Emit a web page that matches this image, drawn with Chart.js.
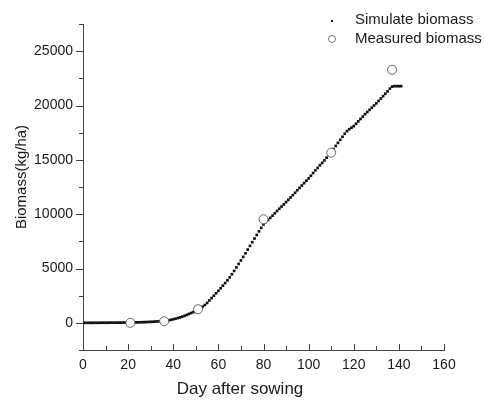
<!DOCTYPE html>
<html lang="en">
<head>
  <meta charset="UTF-8">
  <title>Biomass</title>
  <script src="https://cdn.jsdelivr.net/npm/chart.js"></script>
  <style>
    html, body { margin: 0; padding: 0; background: #fff; }
    .wrap { width: 485px; height: 403px; position: relative; }
  </style>
</head>
<body>
<div class="wrap"><canvas id="biomassChart"></canvas></div>

<script>
  // simulated biomass, one value per day starting at day 0
  const simBiomass = [
    0, 0, 0, 0, 0, 5, 5, 5, 10, 10, 10, 10, 15, 15, 15, 20, 20, 20, 25, 25, 30,
    30, 35, 40, 45, 50, 55, 60, 70, 80, 90, 100, 115, 130, 145, 165, 185, 210, 240, 280, 330,
    380, 440, 500, 570, 650, 730, 820, 910, 1000, 1100, 1210, 1340, 1480, 1640, 1830, 2060, 2280, 2500, 2720, 2950,
    3180, 3420, 3660, 3910, 4180, 4470, 4780, 5100, 5420, 5740, 6070, 6400, 6740, 7080, 7420, 7760, 8090, 8420, 8740, 9050,
    9280, 9470, 9660, 9860, 10080, 10290, 10500, 10700, 10900, 11110, 11320, 11530, 11750, 11970, 12200, 12420, 12640, 12860, 13080, 13300,
    13540, 13790, 14030, 14260, 14500, 14720, 14950, 15200, 15450, 15700, 15990, 16280, 16560, 16840, 17120, 17400, 17640, 17820, 17960, 18100,
    18320, 18540, 18760, 18980, 19200, 19400, 19600, 19800, 20000, 20200, 20420, 20640, 20860, 21080, 21300, 21550, 21740, 21780, 21780, 21780, 21780
  ];
  const measuredDays = [21, 36, 51, 80, 110, 137];
  const measuredBiomass = [0, 150, 1250, 9530, 15660, 23290];

  const xTickLabels = [0, 20, 40, 60, 80, 100, 120, 140, 160];
  const yTickLabels = [0, 5000, 10000, 15000, 20000, 25000];

  const seriesNames = ["Simulate biomass", "Measured biomass"];
  const xTitle = "Day after sowing";
  const yTitle = "Biomass(kg/ha)";

  const axisColor = "#444";
  const textColor = "#1a1a1a";
  const fontFamily = "'Liberation Sans', Arial, sans-serif";

  const simPoints = simBiomass.map((v, day) => ({ x: day, y: v }));
  const measuredPoints = measuredDays.map((d, i) => ({ x: d, y: measuredBiomass[i] }));

  // tick marks (long major, short minor), axis titles and the legend
  const decorPlugin = {
    id: "decor",
    afterDraw(chart) {
      const ctx = chart.ctx;
      const area = chart.chartArea;
      const xs = chart.scales.x, ys = chart.scales.y;
      ctx.save();
      ctx.strokeStyle = axisColor;
      ctx.lineWidth = 1;
      ctx.beginPath();
      ys.ticks.forEach(t => {
        const py = Math.round(ys.getPixelForValue(t.value)) + 0.5;
        const len = yTickLabels.includes(t.value) ? 7 : 4;
        ctx.moveTo(area.left, py);
        ctx.lineTo(area.left - len, py);
      });
      xs.ticks.forEach(t => {
        const px = Math.round(xs.getPixelForValue(t.value)) + 0.5;
        const len = xTickLabels.includes(t.value) ? 6 : 4;
        ctx.moveTo(px, area.bottom);
        ctx.lineTo(px, area.bottom - len);
      });
      ctx.stroke();

      // axis titles
      ctx.fillStyle = textColor;
      ctx.textAlign = "center";
      ctx.textBaseline = "middle";
      ctx.font = "17px " + fontFamily;
      ctx.fillText(xTitle, 240, 389);
      ctx.save();
      ctx.translate(22, 177);
      ctx.rotate(-Math.PI / 2);
      ctx.font = "15px " + fontFamily;
      ctx.fillText(yTitle, 0, 0);
      ctx.restore();

      // legend
      ctx.font = "15px " + fontFamily;
      ctx.textAlign = "left";
      ctx.fillText(seriesNames[0], 355, 20);
      ctx.fillText(seriesNames[1], 355, 39);
      ctx.fillStyle = "#111";
      ctx.fillRect(331, 20, 2, 2);
      ctx.beginPath();
      ctx.arc(332, 39, 3.5, 0, Math.PI * 2);
      ctx.fillStyle = "#fff";
      ctx.fill();
      ctx.strokeStyle = "#777";
      ctx.stroke();
      ctx.restore();
    }
  };

  new Chart(document.getElementById("biomassChart"), {
    type: "scatter",
    data: {
      datasets: [
        {
          label: seriesNames[0],
          data: simPoints,
          pointStyle: "rect",
          pointRadius: 1.9,
          pointHoverRadius: 1.9,
          backgroundColor: "#111",
          borderColor: "#111",
          borderWidth: 0,
          order: 1
        },
        {
          label: seriesNames[1],
          data: measuredPoints,
          pointStyle: "circle",
          pointRadius: 4.5,
          pointHoverRadius: 4.5,
          backgroundColor: "#fff",
          borderColor: "#666",
          borderWidth: 1,
          order: 0
        }
      ]
    },
    options: {
      responsive: true,
      maintainAspectRatio: false,
      animation: false,
      layout: { padding: { top: 24, right: 41, bottom: 0, left: 0 } },
      plugins: {
        legend: { display: false },
        tooltip: { enabled: false }
      },
      scales: {
        x: {
          type: "linear",
          min: 0,
          max: 160,
          grid: { display: false, drawTicks: false },
          border: { display: true, color: axisColor, width: 1 },
          ticks: {
            stepSize: 10,
            autoSkip: false,
            maxRotation: 0,
            padding: 7,
            color: textColor,
            font: { family: fontFamily, size: 14 },
            callback: v => xTickLabels.includes(v) ? v : ""
          },
          afterFit: s => { s.height = 53; }
        },
        y: {
          min: -2500,
          max: 27500,
          grid: { display: false, drawTicks: false },
          border: { display: true, color: axisColor, width: 1 },
          ticks: {
            stepSize: 2500,
            autoSkip: false,
            padding: 10,
            color: textColor,
            font: { family: fontFamily, size: 14 },
            callback: v => yTickLabels.includes(v) ? v : ""
          },
          afterFit: s => { s.width = 83; }
        }
      }
    },
    plugins: [decorPlugin]
  });
</script>
</body>
</html>
